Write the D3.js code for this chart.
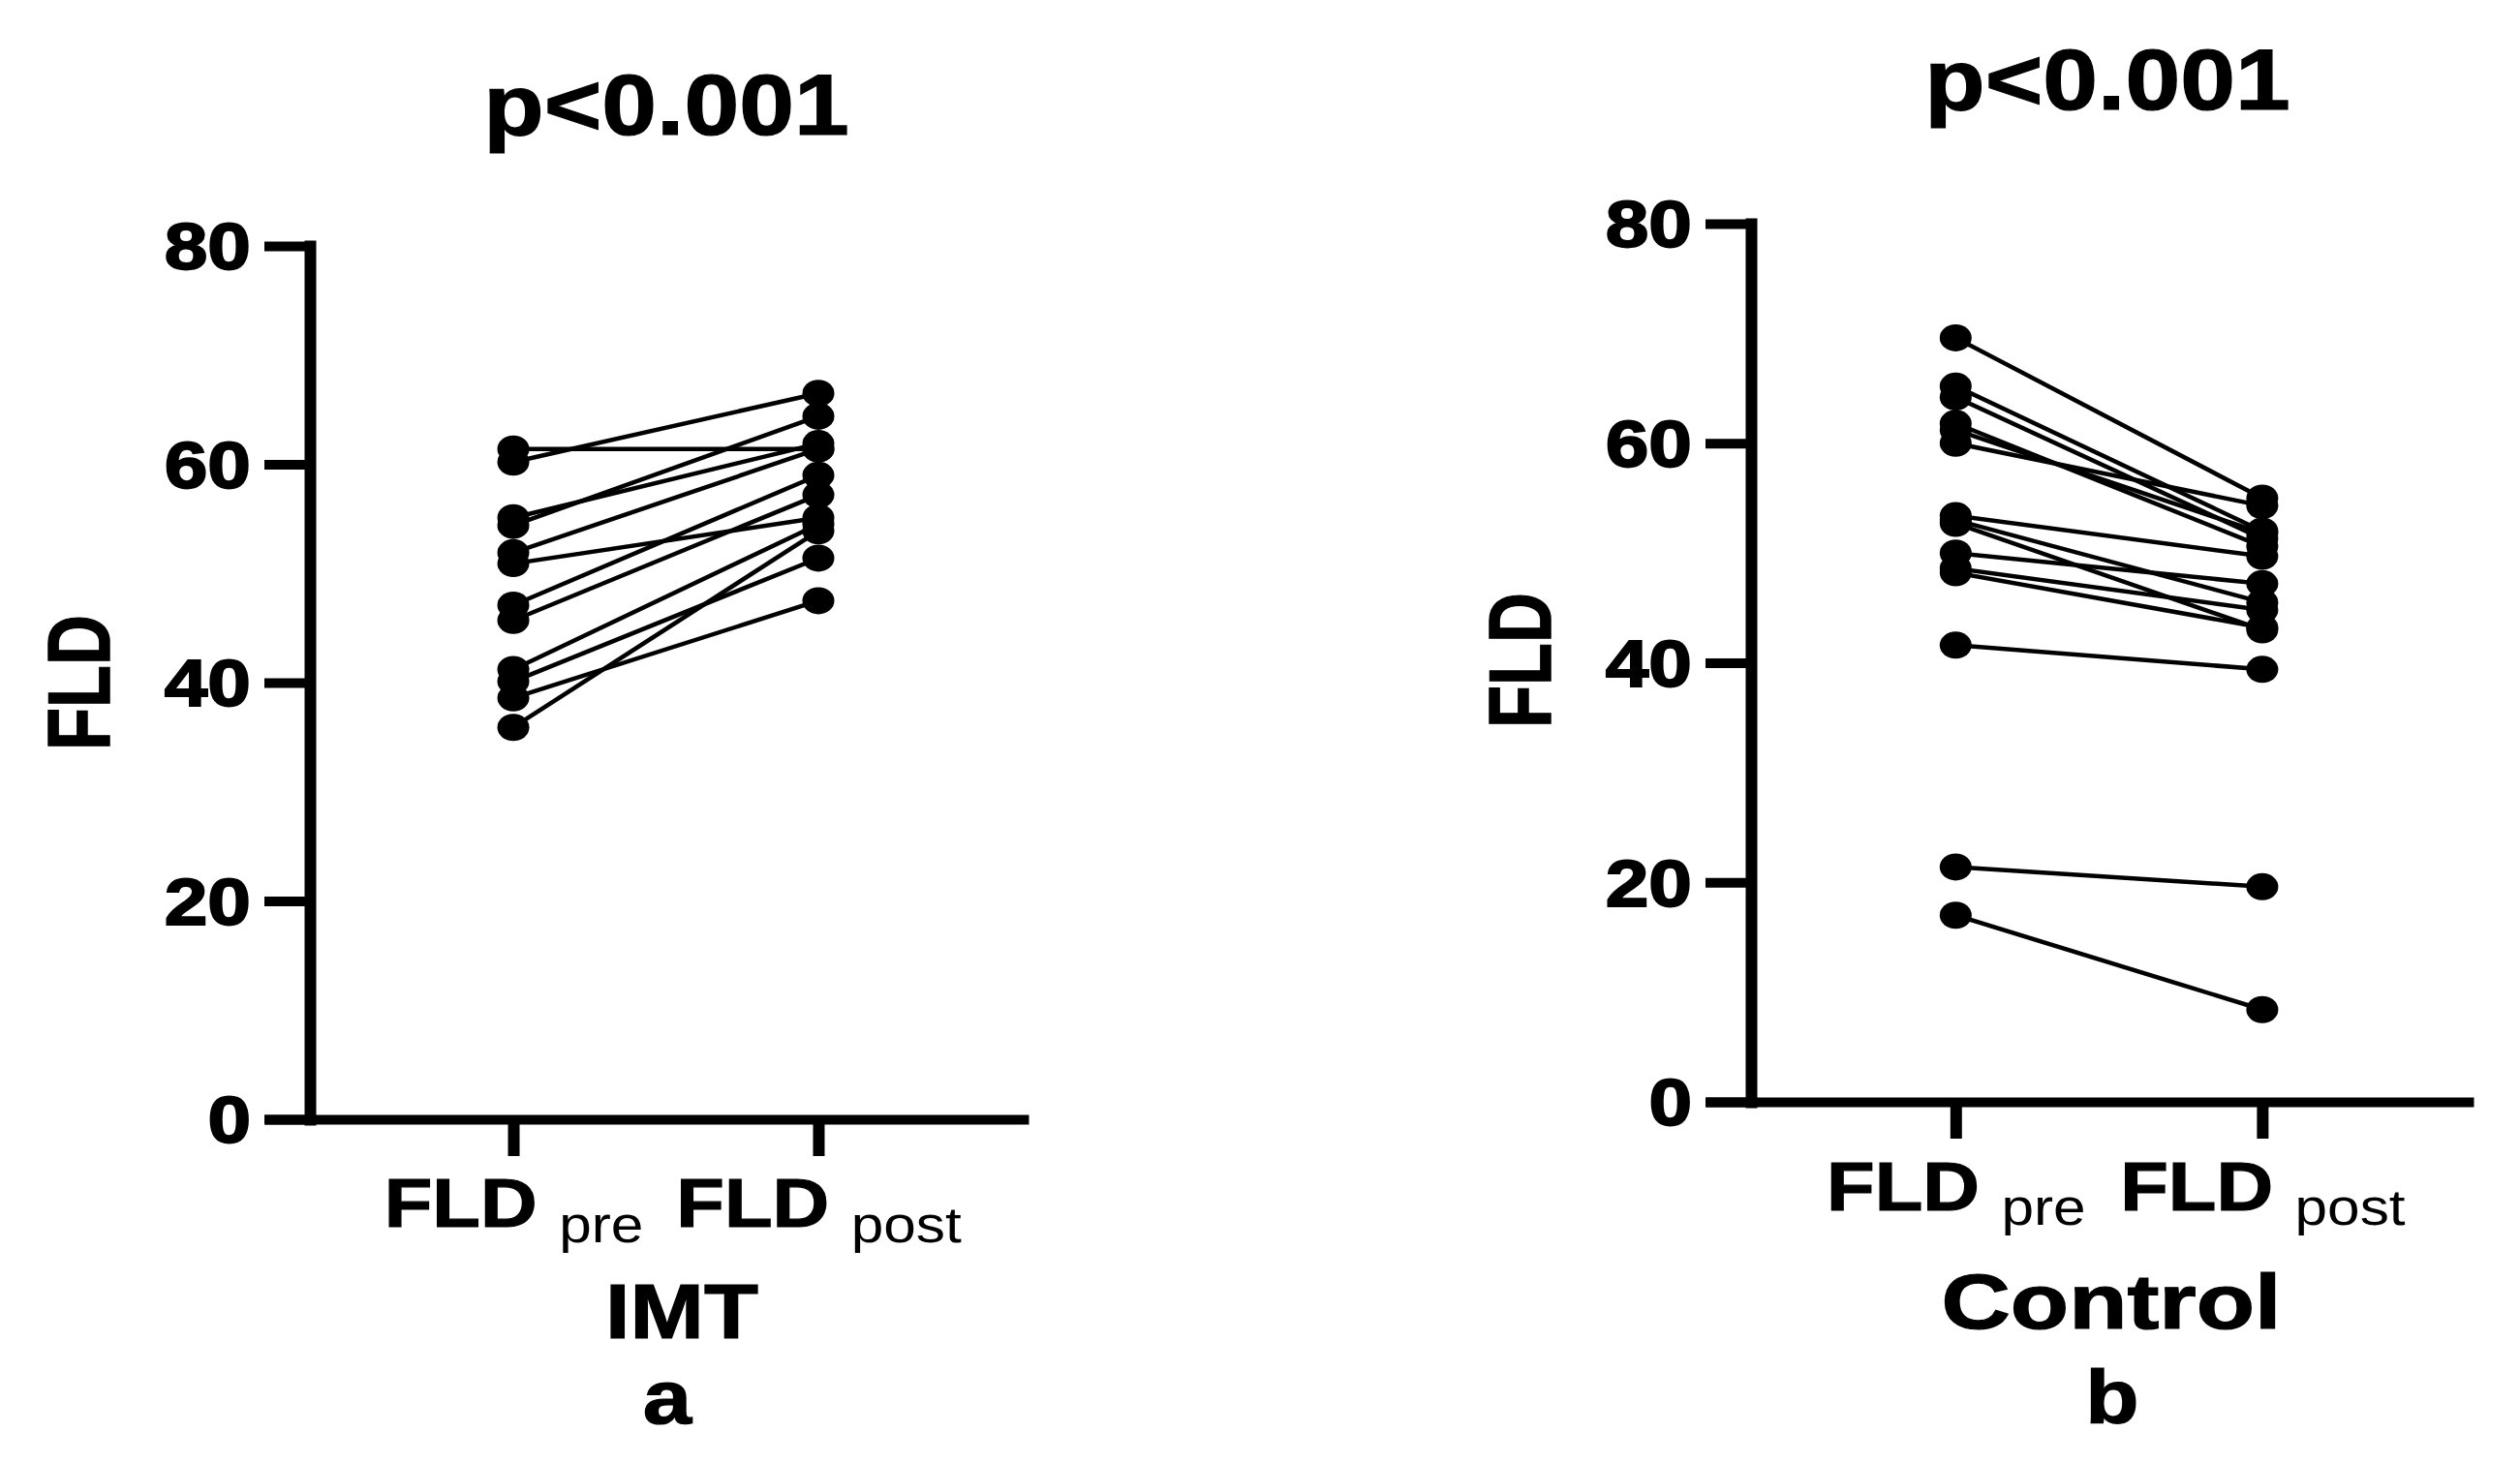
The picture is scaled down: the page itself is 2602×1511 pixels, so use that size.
<!DOCTYPE html>
<html>
<head>
<meta charset="utf-8">
<script src="https://cdn.jsdelivr.net/npm/d3@7"></script>
<style>
body { margin: 0; background: #fff; }
svg { display: block; font-family: "Liberation Sans", Arial, sans-serif; }
</style>
</head>
<body>
<svg id="chart" width="2602" height="1511"></svg>
<script>
// FLD per subject, pre[i] is joined to post[i]
var imtPre  = [61.4, 60.2, 55.1, 54.4, 51.9, 50.9, 47.1, 45.7, 41.2, 40.1, 38.6, 35.9];
var imtPost = [61.4, 66.5, 61.9, 64.4, 61.4, 55.1, 59.0, 57.2, 54.5, 51.4, 47.5, 53.9];

var ctrlPre  = [69.6, 65.2, 64.2, 61.8, 61.2, 60.0, 53.4, 53.0, 52.7, 50.0, 48.6, 48.2, 41.6, 21.4, 17.0];
var ctrlPost = [55.0, 52.0, 51.3, 50.6, 51.8, 54.3, 49.7, 45.5, 43.0, 47.2, 44.8, 43.2, 39.4, 19.6, 8.4];

var tickMain = ["FLD", "FLD"];
var tickSub = ["pre", "post"];
var yTicks = [0, 20, 40, 60, 80];
var pTitles = ["p<0.001", "p<0.001"];
var groupNames = ["IMT", "Control"];
var panelLetters = ["a", "b"];

var SX = 1.16; // the figure is a bit wider than tall type

var layout = [
	{left: 273, right: 1062, axisX: 320, y0: 1156, y80: 254, titleX: 688, titleY: 139,
	 yTitleX: 113, yTitleY: 705, labY: 111, subDy: 16, groupX: 704, groupY: 1382, groupSX: 1.16,
	 letX: 689, letY: 1470},
	{left: 1761, right: 2554, axisX: 1808, y0: 1138, y80: 231, titleX: 2176, titleY: 113,
	 yTitleX: 1601, yTitleY: 682, labY: 112, subDy: 15, groupX: 2180, groupY: 1372, groupSX: 1.25,
	 letX: 2181, letY: 1470}
];
var series = [[imtPre, imtPost], [ctrlPre, ctrlPost]];

var svg = d3.select("#chart");

var stretchText = function(sel, x, y, sx) {
	sel.attr("x", 0).attr("y", 0)
		.attr("transform", "translate(" + x + "," + y + ") scale(" + sx + ",1)");
}

for (var p = 0; p < 2; p++) {
	var L = layout[p];
	var pre = series[p][0], post = series[p][1];
	var g = svg.append("g").attr("class", "panel");

	var y = d3.scaleLinear().domain([0, 80]).range([L.y0, L.y80]);
	// categories sit at 0 and 1, the axis line runs a bit past them
	var x = d3.scaleLinear().domain([-0.816, 1.689]).range([L.left, L.right]);

	// y axis
	var yAx = g.append("g")
		.attr("transform", "translate(" + L.axisX + ",0)")
		.call(d3.axisLeft(y).tickValues(yTicks).tickSize(47).tickSizeOuter(0).tickPadding(14));
	yAx.select(".domain").attr("stroke-width", 12).attr("stroke-linecap", "square");
	yAx.selectAll(".tick line").attr("stroke-width", 10);
	yAx.selectAll(".tick text")
		.attr("font-size", 68)
		.attr("font-weight", "bold")
		.attr("fill", "#000")
		.attr("stroke", "#000")
		.attr("stroke-width", 1.8)
		.each(function() {
			stretchText(d3.select(this), -61, 0, 1.18);
		})
		.attr("dy", "0.35em");

	// x axis
	var xAx = g.append("g")
		.attr("transform", "translate(0," + L.y0 + ")")
		.call(d3.axisBottom(x).tickValues([0, 1]).tickSize(38).tickSizeOuter(0));
	xAx.select(".domain").attr("stroke-width", 10);
	xAx.selectAll(".tick line").attr("stroke-width", 12);
	xAx.selectAll(".tick text").each(function(d) {
		var t = d3.select(this).text(null)
			.attr("dy", null)
			.attr("fill", "#000")
			.attr("text-anchor", "middle");
		stretchText(t, 0, L.labY, SX);
		t.append("tspan").attr("font-size", 70).attr("font-weight", "bold")
			.attr("stroke", "#000").attr("stroke-width", 1.2).text(tickMain[d] + " ");
		t.append("tspan").attr("font-size", 52).attr("dy", L.subDy).text(tickSub[d]);
	});
	g.selectAll("g").attr("font-family", null);

	// paired lines
	var line = d3.line().x(function(d) { return x(d[0]); }).y(function(d) { return y(d[1]); });
	g.selectAll(".pair")
		.data(pre.map(function(v, i) { return [[0, v], [1, post[i]]]; }))
		.enter()
		.append("path")
			.attr("class", "pair")
			.attr("d", line)
			.attr("fill", "none")
			.attr("stroke", "#000")
			.attr("stroke-width", 4.5);

	// dots
	var pts = [];
	for (var i = 0; i < pre.length; i++) {
		pts.push([0, pre[i]]);
		pts.push([1, post[i]]);
	}
	g.selectAll(".dot")
		.data(pts)
		.enter()
		.append("ellipse")
			.attr("class", "dot")
			.attr("cx", function(d) { return x(d[0]); })
			.attr("cy", function(d) { return y(d[1]); })
			.attr("rx", 16.5)
			.attr("ry", 14)
			.attr("fill", "#000");

	// texts
	var tt = g.append("text")
		.attr("text-anchor", "middle")
		.attr("font-size", 88)
		.attr("font-weight", "bold")
		.attr("stroke", "#000")
		.attr("stroke-width", 1.2)
		.text(pTitles[p]);
	stretchText(tt, L.titleX, L.titleY, SX);

	g.append("text")
		.attr("text-anchor", "middle")
		.attr("font-size", 72)
		.attr("font-weight", "bold")
		.attr("stroke", "#000")
		.attr("stroke-width", 1.2)
		.attr("transform", "translate(" + L.yTitleX + "," + L.yTitleY + ") scale(1.25,1) rotate(-90)")
		.text("FLD");

	var gn = g.append("text")
		.attr("text-anchor", "middle")
		.attr("font-size", 79)
		.attr("font-weight", "bold")
		.attr("stroke", "#000")
		.attr("stroke-width", 1.2)
		.text(groupNames[p]);
	stretchText(gn, L.groupX, L.groupY, L.groupSX);

	var lt = g.append("text")
		.attr("text-anchor", "middle")
		.attr("font-size", 78)
		.attr("font-weight", "bold")
		.attr("stroke", "#000")
		.attr("stroke-width", 1.2)
		.text(panelLetters[p]);
	stretchText(lt, L.letX, L.letY, SX);
}
</script>
</body>
</html>
